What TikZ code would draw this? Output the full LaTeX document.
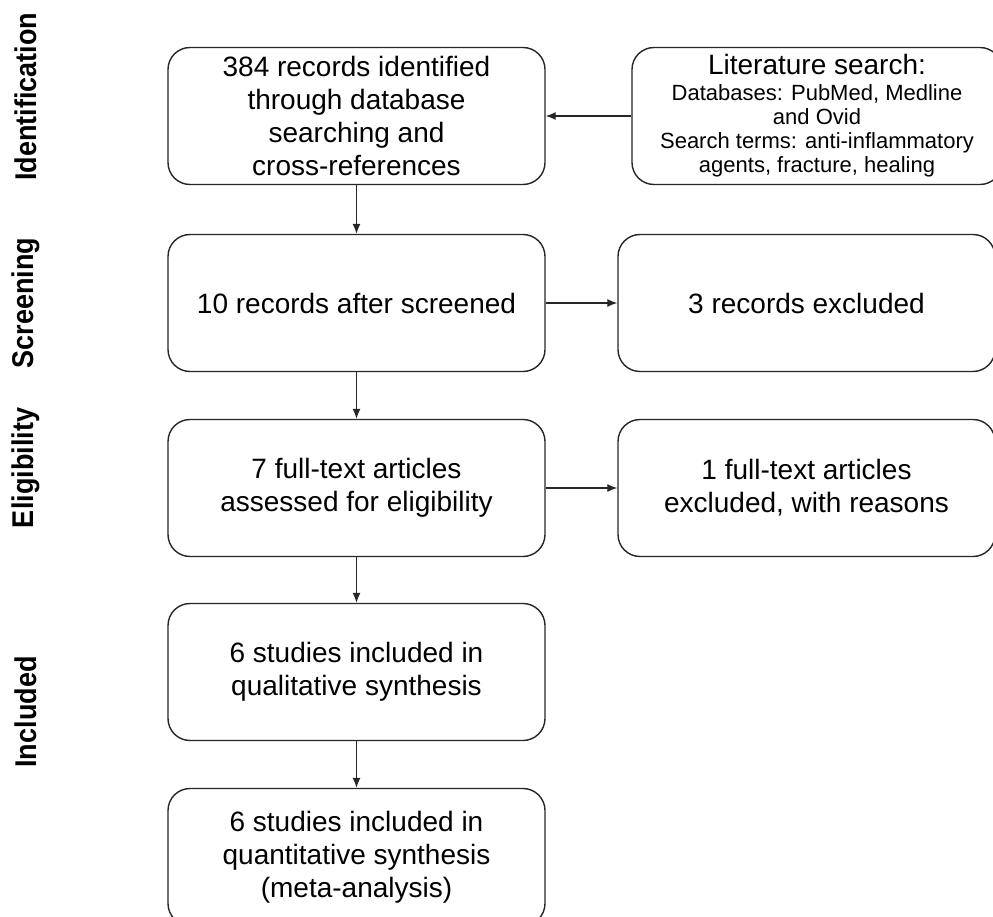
\documentclass[tikz,border=0pt]{standalone}
\usepackage{fontspec}
\setmainfont{Liberation Sans}
\newfontfamily\stagefont[UprightFont={* Bold},FakeStretch=0.9]{Liberation Sans}
\usepackage{tikz}
\usetikzlibrary{arrows.meta}

\begin{document}
\begin{tikzpicture}[x=1pt, y=-1pt,
  box/.style={draw=black!85, line width=1.4pt, rounded corners=22pt, align=center,
    minimum width=377pt, minimum height=137pt, inner sep=0pt,
    font=\fontsize{28}{33}\selectfont},
  stage/.style={rotate=90, font=\stagefont\fontsize{30}{32}\selectfont},
  flow/.style={-{Latex[length=10pt,width=8pt]}, line width=1.3pt, black!85}]

\useasboundingbox (0,0) rectangle (993,917);

% Draw the stage names on the left
\node[stage] (idn) at (26,97)  {Identification};
\node[stage] (scr) at (26,303) {Screening};
\node[stage] (elg) at (26,468) {Eligibility};
\node[stage] (inc) at (26,712) {Included};

% Draw the main column of boxes
\node[box] (rec)  at (356.5,116) {384 records identified\\through database\\searching and\\cross-references};
\node[box] (scd)  at (356.5,303) {10 records after screened};
\node[box] (full) at (356.5,488) {7 full-text articles\\assessed for eligibility};
\node[box] (qual) at (356.5,672) {6 studies included in\\qualitative synthesis};
\node[box] (quan) at (356.5,857) {6 studies included in\\quantitative synthesis\\(meta-analysis)};

% Draw the boxes on the right
\node[box, minimum width=370pt, font=\fontsize{22}{24}\selectfont] (lit) at (817,116)
  {{\fontsize{28}{30}\selectfont Literature search:}\\[2pt]
   Databases: PubMed, Medline\\and Ovid\\Search terms: anti-inflammatory\\agents, fracture, healing};
\node[box] (exa) at (806.5,303) {3 records excluded};
\node[box] (exb) at (806.5,488) {1 full-text articles\\excluded, with reasons};

% Draw the arrows
\draw[flow] (lit.west) -- (rec.east);
\draw[flow] (rec.south) -- (scd.north);
\draw[flow] (scd.south) -- (full.north);
\draw[flow] (full.south) -- (qual.north);
\draw[flow] (qual.south) -- (quan.north);
\draw[flow] (scd.east) -- (exa.west);
\draw[flow] (full.east) -- (exb.west);

\end{tikzpicture}
\end{document}
